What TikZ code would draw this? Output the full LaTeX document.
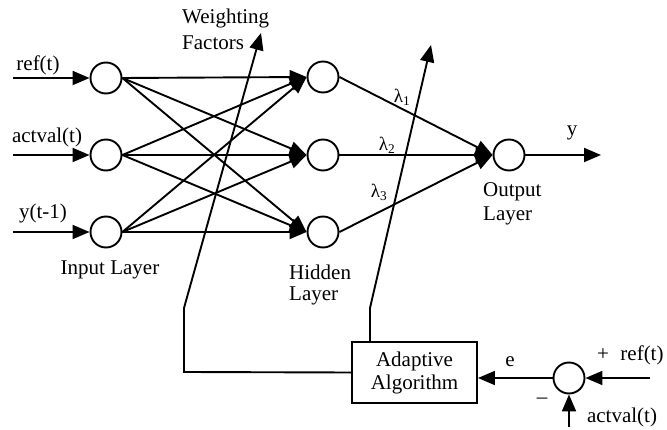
\documentclass[tikz,border=0pt]{standalone}
\usepackage{fontspec}
\setmainfont{Liberation Serif}
\usetikzlibrary{arrows.meta}
\begin{document}
\begin{tikzpicture}[x=1pt,y=-1pt,
  neuron/.style={circle,draw,line width=1.9pt,minimum size=31pt,inner sep=0pt},
  lbl/.style={inner sep=0pt,font=\fontsize{21}{24}\selectfont},
  lam/.style={inner sep=0pt,font=\fontsize{19}{22}\selectfont},
  wire/.style={line width=1.9pt},
  arr/.style={line width=1.9pt,-{Triangle[length=17pt,width=14pt]}},
  blockbox/.style={draw,line width=1.9pt,minimum width=125pt,minimum height=61pt,inner sep=0pt,align=center,font=\fontsize{21}{23}\selectfont}]
\useasboundingbox (0,0) rectangle (667,430);
% neurons
\node[neuron] (in1) at (106,78) {};
\node[neuron] (in2) at (106,155) {};
\node[neuron] (in3) at (106,232) {};
\node[neuron] (h1) at (323,77) {};
\node[neuron] (h2) at (323,155) {};
\node[neuron] (h3) at (323,232) {};
\node[neuron] (out) at (509,155) {};
\node[neuron] (sum) at (569,378) {};
\node[blockbox] (alg) at (414.5,372.5) {Adaptive\\Algorithm};
% coordinates
\coordinate (s1) at (13,78);
\coordinate (s2) at (13,155);
\coordinate (s3) at (13,232);
\coordinate (yend) at (601,155);
\coordinate (refin) at (650,378);
\coordinate (actin) at (569,427);
\coordinate (w1tip) at (261,33);
\coordinate (w1bend) at (184,308);
\coordinate (w1corner) at (184,372);
\coordinate (w2tip) at (431,45);
\coordinate (w2bend) at (370,308);
\coordinate (w2foot) at (370,342);
% inputs
\draw[arr] (s1) -- (in1.west);
\draw[arr] (s2) -- (in2.west);
\draw[arr] (s3) -- (in3.west);
% input -> hidden
\foreach \i in {1,2,3}{
  \foreach \j in {1,2,3}{
    \draw[arr] (in\i.east) -- (h\j.west);
  }
}
% hidden -> output
\foreach \j in {1,2,3}{
  \draw[arr] (h\j.east) -- (out.west);
}
\draw[arr] (out.east) -- (yend);
% adaptive paths
\draw[wire] (alg.west) -- (w1corner) -- (w1bend);
\draw[arr] (w1bend) -- (w1tip);
\draw[wire] (w2foot) -- (w2bend);
\draw[arr] (w2bend) -- (w2tip);
% error path
\draw[arr] (refin) -- (sum.east);
\draw[arr] (actin) -- (sum.south);
\draw[arr] (sum.west) -- (sum.west -| alg.east);
% labels
\node[lbl] (lref) at (38,65) {ref(t)};
\node[lbl] (lact) at (47,137) {actval(t)};
\node[lbl] (ly1) at (43,213) {y(t-1)};
\node[lbl,anchor=west] (lw1) at (182,18) {Weighting};
\node[lbl,anchor=west] (lw2) at (182,43) {Factors};
\node[lbl] (lin) at (110,270) {Input Layer};
\node[lbl,anchor=west] (lh1) at (289,272) {Hidden};
\node[lbl,anchor=west] (lh2) at (289,296) {Layer};
\node[lbl,anchor=west] (lo1) at (483,192) {Output};
\node[lbl,anchor=west] (lo2) at (483,216) {Layer};
\node[lam] (l1) at (402,97) {λ\textsubscript{1}};
\node[lam] (l2) at (387,145) {λ\textsubscript{2}};
\node[lam] (l3) at (379,192) {λ\textsubscript{3}};
\node[lbl] (ly) at (572,133) {y};
\node[lbl] (le) at (510,362) {e};
\node[lbl] (lplus) at (603,355) {+};
\node[lbl] (lref2) at (642,355) {ref(t)};
\node[lbl] (lminus) at (542,401) {–};
\node[lbl] (lact2) at (622,417) {actval(t)};
\end{tikzpicture}
\end{document}
